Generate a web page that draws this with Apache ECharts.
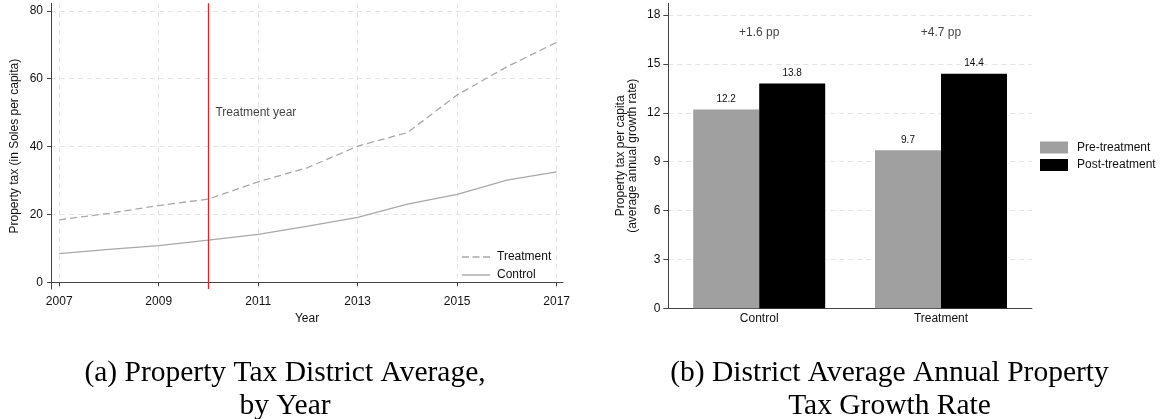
<!DOCTYPE html>
<html><head><meta charset="utf-8">
<script src="https://cdn.jsdelivr.net/npm/echarts@6/dist/echarts.min.js"></script>
<style>html,body{margin:0;padding:0;background:#fff}#c{width:1160px;height:419px}</style>
</head><body><div id="c"></div>
<script>
// Panel (a): property tax per capita by year
const years = [2007, 2008, 2009, 2010, 2011, 2012, 2013, 2014, 2015, 2016, 2017];
const treatment = [18.4, 20.3, 22.6, 24.5, 29.6, 33.8, 40.1, 44.1, 55.2, 63.5, 70.7];
const control = [8.4, 9.7, 10.8, 12.4, 14.1, 16.5, 19.1, 23.0, 25.9, 30.1, 32.5];
const yearTicks = [2007, 2009, 2011, 2013, 2015, 2017];
const taxTicks = [0, 20, 40, 60, 80];
const treatmentYear = 2010;
const treatmentYearLabel = 'Treatment year';

// Panel (b): average annual growth rate
const groups = ['Control', 'Treatment'];
const preGrowth = [12.2, 9.7];
const postGrowth = [13.8, 14.4];
const growthTicks = [0, 3, 6, 9, 12, 15, 18];
const diffLabels = ['+1.6 pp', '+4.7 pp'];

const captionA = '(a) Property Tax District Average,\nby Year';
const captionB = '(b) District Average Annual Property\nTax Growth Rate';

const FONT = 'Liberation Sans, Arial, sans-serif';
const AX = '#444';
const GRID = '#e4e4e4';
const TXT = '#111';
const SERIF = '29.5px "Liberation Serif", "Times New Roman", serif';

const chart = echarts.init(document.getElementById('c'), null, {renderer: 'canvas'});
chart.setOption({
  animation: false,
  backgroundColor: '#fff',
  textStyle: {fontFamily: FONT, color: TXT},
  grid: [
    {left: 51, top: 3.3, width: 512, height: 285.7},
    {left: 668.3, top: 3.3, width: 363.6, height: 305}
  ],
  xAxis: [
    {
      type: 'value', gridIndex: 0, min: 2006.835, max: 2017.127,
      name: 'Year', nameLocation: 'middle', nameGap: 23,
      nameTextStyle: {fontSize: 12, color: TXT, fontFamily: FONT},
      axisLine: {show: true, lineStyle: {color: AX, width: 1}},
      axisTick: {show: true, length: 4, lineStyle: {color: AX}, customValues: yearTicks},
      axisLabel: {fontSize: 12, color: TXT, margin: 7, customValues: yearTicks, formatter: v => String(v)},
      splitLine: {show: true, lineStyle: {color: GRID, type: [5, 4], width: 1}}
    },
    {
      type: 'category', gridIndex: 1, data: groups, boundaryGap: true,
      axisLine: {show: true, lineStyle: {color: AX, width: 1}},
      axisTick: {show: false},
      axisLabel: {fontSize: 12, color: TXT, margin: 4},
      splitLine: {show: false}
    }
  ],
  yAxis: [
    {
      type: 'value', gridIndex: 0, min: -2, max: 82.2,
      name: 'Property tax (in Soles per capita)', nameLocation: 'middle', nameGap: 30,
      nameTextStyle: {fontSize: 12, color: TXT, fontFamily: FONT},
      axisLine: {show: true, lineStyle: {color: AX, width: 1}},
      axisTick: {show: true, length: 4, lineStyle: {color: AX}, customValues: taxTicks},
      axisLabel: {fontSize: 12, color: TXT, margin: 8, customValues: taxTicks},
      splitLine: {show: true, lineStyle: {color: GRID, type: [5, 4], width: 1}}
    },
    {
      type: 'value', gridIndex: 1, min: 0, max: 18.72,
      name: 'Property tax per capita\n(average annual growth rate)', nameLocation: 'middle', nameGap: 30,
      nameTextStyle: {fontSize: 12, color: TXT, fontFamily: FONT, lineHeight: 12},
      axisLine: {show: true, lineStyle: {color: AX, width: 1}},
      axisTick: {show: true, length: 5, lineStyle: {color: AX}, customValues: growthTicks},
      axisLabel: {fontSize: 12, color: TXT, margin: 8, customValues: growthTicks},
      splitLine: {show: true, lineStyle: {color: GRID, type: [5, 4], width: 1}}
    }
  ],
  legend: [
    {
      orient: 'vertical', left: 457, top: 245, itemWidth: 28, itemHeight: 1.4, itemGap: 4,
      padding: 5,
      data: [
        {name: 'Treatment', icon: 'path://M0,0h7v1.4h-7z M10.5,0h7v1.4h-7z M21,0h7v1.4h-7z'},
        {name: 'Control', icon: 'path://M0,0h28v1.4h-28z'}
      ],
      itemStyle: {color: '#a8a8a8', borderWidth: 0},
      textStyle: {fontSize: 12, color: TXT, fontFamily: FONT, lineHeight: 14, padding: [0, 0, 0, 2]},
      selectedMode: false
    },
    {
      orient: 'vertical', left: 1035, top: 136.5, itemWidth: 28, itemHeight: 12, itemGap: 5.5,
      padding: 5,
      data: ['Pre-treatment', 'Post-treatment'], icon: 'rect',
      textStyle: {fontSize: 12, color: TXT, fontFamily: FONT, padding: [0, 0, 0, 4]},
      selectedMode: false
    }
  ],
  series: [
    {
      name: 'Treatment', type: 'line', xAxisIndex: 0, yAxisIndex: 0,
      data: years.map((y, i) => [y, treatment[i]]),
      symbol: 'none', lineStyle: {color: '#a8a8a8', width: 1.3, type: [7, 4]},
      itemStyle: {color: '#a8a8a8'}, z: 3
    },
    {
      name: 'Control', type: 'line', xAxisIndex: 0, yAxisIndex: 0,
      data: years.map((y, i) => [y, control[i]]),
      symbol: 'none', lineStyle: {color: '#a8a8a8', width: 1.3},
      itemStyle: {color: '#a8a8a8'}, z: 3,
      markLine: {
        silent: true, symbol: 'none', animation: false,
        label: {show: false},
        lineStyle: {color: '#d42a2a', width: 1.3, type: 'solid'},
        data: [{xAxis: treatmentYear}]
      }
    },
    {
      name: 'treatmentYearLabel', type: 'scatter', xAxisIndex: 0, yAxisIndex: 0,
      data: [[treatmentYear, 50]], symbolSize: 0,
      itemStyle: {color: '#000'},
      label: {show: true, position: 'right', distance: 7, formatter: treatmentYearLabel, fontSize: 12, color: TXT, fontFamily: FONT},
      silent: true
    },
    {
      name: 'Pre-treatment', type: 'bar', xAxisIndex: 1, yAxisIndex: 1,
      data: preGrowth, barGap: '0%', barCategoryGap: '27.4%',
      itemStyle: {color: '#a0a0a0'},
      label: {show: true, position: 'top', distance: 5, fontSize: 10, color: TXT, fontFamily: FONT, formatter: p => p.value.toFixed(1)}
    },
    {
      name: 'Post-treatment', type: 'bar', xAxisIndex: 1, yAxisIndex: 1,
      data: postGrowth, barGap: '0%', barCategoryGap: '27.4%',
      itemStyle: {color: '#000'},
      label: {show: true, position: 'top', distance: 5, fontSize: 10, color: TXT, fontFamily: FONT, formatter: p => p.value.toFixed(1)}
    },
    {
      name: 'diffLabels', type: 'scatter', xAxisIndex: 1, yAxisIndex: 1,
      data: groups.map((g, i) => [i, 16.94]), symbolSize: 0,
      itemStyle: {color: '#000'},
      label: {show: true, position: 'inside', formatter: p => diffLabels[p.dataIndex], fontSize: 12, color: TXT, fontFamily: FONT},
      silent: true
    }
  ],
  graphic: [
    {type: 'text', x: 285, y: 357, style: {text: captionA, font: SERIF, fill: '#000', align: 'center', lineHeight: 33}},
    {type: 'text', x: 889.5, y: 357, style: {text: captionB, font: SERIF, fill: '#000', align: 'center', lineHeight: 33}}
  ]
});
</script>
</body></html>
